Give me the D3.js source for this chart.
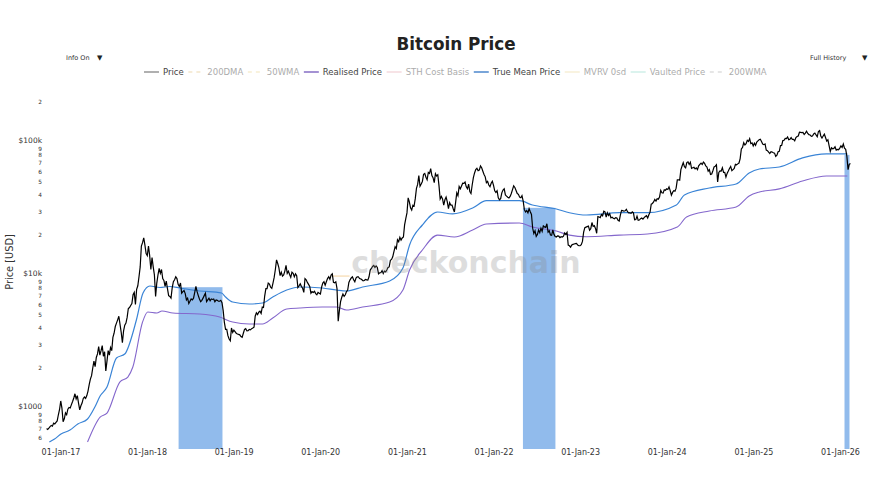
<!DOCTYPE html>
<html>
<head>
<meta charset="utf-8">
<script src="https://d3js.org/d3.v7.min.js"></script>
<style>
  html, body { margin: 0; padding: 0; background: #fff; }
  text { font-family: "DejaVu Sans", sans-serif; }
</style>
</head>
<body>
<svg id="chart" width="892" height="500"></svg>
<script>
// price, one reading every 5 days, one list per calendar stretch
var price2016 = [700,690,705,725,740,730,770,760,780,800,890,975];
var price2017 = [1130,1000,790,830,920,890,980,1010,1000,1060,1120,1190,1280,1170,1240,1090,970,1040,1090,1180,1210,1180,1240,1340,1500,1650,1750,2000,2250,2050,2400,2550,2900,2500,2700,2950,2450,2650,1900,2250,2700,2500,2850,2700,3400,3650,4100,4350,4600,4900,4250,3700,3100,3800,4200,4350,4800,5600,5700,5900,6100,7100,7400,6000,7800,8300,9700,11500,16500,17500,19000,16800,14500,14000];
var price2018 = [16500,14000,11000,13500,11500,10000,6900,8700,10000,11200,10300,11000,9400,9100,8200,9000,7900,7000,6900,6700,8000,8900,9200,9700,9400,8500,8200,8700,7300,7500,7650,7250,6500,6700,6100,6350,6600,6500,6700,7400,8200,7500,7000,6600,6300,6450,6700,7000,7300,6300,6500,6700,6400,6600,6550,6600,6300,6500,6450,6350,6350,6450,6200,5400,4400,3900,3900,3500,3300,3200,4000,3700];
var price2019 = [3850,3750,3650,3600,3580,3550,3450,3400,3650,3900,3950,3800,3820,3900,3870,3950,3990,4050,4900,5200,5050,5250,5350,5150,5750,5700,6950,7900,7900,8700,8550,8100,7950,8700,9600,11000,13000,12200,11300,9900,10500,9800,10000,10700,11800,10300,10700,10100,9600,10500,10300,9700,10200,9900,8050,8300,8600,8200,7950,7400,9400,9200,8800,8500,8200,7300,7500,7400,7550,7250,7100,7400,7300,7200];
var price2020 = [8100,8700,8900,8400,8900,9400,9700,9300,10000,10200,8800,8750,8900,7900,4500,5400,6300,6800,7200,6900,7100,7500,7700,8800,9200,9500,9700,9200,8900,9500,9700,9700,9400,9350,9200,9050,9100,9250,9200,9150,9700,10900,11200,11600,11800,11400,11700,11400,10200,10400,10400,10800,10250,10700,10550,10900,11400,11500,12900,13100,13700,15000,16300,15800,18400,17800,19200,18300,19000,19300,23800,26500];
var price2021 = [29300,38000,35500,32000,30800,33500,33000,37500,44800,48000,55900,46500,48400,50500,57200,58000,54400,52000,59000,58000,63000,56000,54000,49500,57800,55500,56700,47000,37300,39000,37300,33500,36800,38500,35500,31500,35000,33500,33500,31500,29800,35000,41500,39500,46300,44500,46700,49000,48800,50000,46000,44500,48300,42500,41000,47500,53900,58500,62000,63500,60900,61500,66000,64000,60300,57000,54700,49500,50600,47500,46200,49000,50700,47200];
var price2022 = [43000,41800,43000,38000,36800,37500,41500,43500,44500,40000,39200,38500,38000,39000,41000,43800,46800,45500,43200,41000,40400,38500,38100,39500,36000,31000,29800,30500,29300,31500,29900,28500,22500,20500,21500,19500,20200,21800,20800,22500,21300,23400,23000,22800,24300,21000,21500,20000,19900,21800,20200,19500,19300,19700,19600,19100,19400,19300,19600,20700,20200,20900,16800,16600,16200,16800,17000,17100,17200,17300,16800,16600];
var price2023 = [16600,16900,17900,21000,22700,22900,23100,23300,21700,22300,24800,23200,23500,22400,20600,27500,27300,27000,28500,27900,30200,29800,27300,29400,28000,28900,26900,27200,26700,26500,27000,26800,25800,25500,28300,30600,30500,30200,30400,31200,29900,29300,29300,29100,29800,29300,26000,26100,27700,25800,25900,26500,26800,26300,27000,27500,27900,26800,28400,29700,34100,34500,35400,37000,36000,37500,37200,38600,43300,41500,41300,43700,43400,44500];
var price2024 = [44000,46000,43100,39800,41800,43000,42700,45000,51900,52000,51700,62000,66000,70000,65300,64000,70000,71000,67800,70500,63400,64000,64500,62800,63900,62000,66200,68000,69300,67700,70600,69000,66000,64800,60300,62000,57000,57500,60800,65000,65800,67500,50000,59000,60600,60500,64000,59000,59100,54500,58100,60500,63300,65500,60800,62000,63200,68000,67400,68500,69500,75000,88700,91000,98900,95000,97200,103000,101000,106000,97200,98500,93400,98000];
var price2025 = [94500,100000,102000,104000,105000,101000,96500,95500,96600,87000,86000,84000,82000,84500,84000,83000,82500,78000,79500,84500,85000,94000,94200,102500,103000,106500,106000,109000,104000,105000,108000,104500,104500,102000,108000,110000,111000,118500,118000,117500,118000,114000,116500,120500,116000,113500,113000,110500,111000,115000,116800,113000,109500,120000,122000,111000,107000,111000,114500,108000,101500,104000,94000,85000,90500,89000,89500,92000,87000,88000,87500,90000];
var price2026 = [93500,91000,96500,90000,88000,78000,62000,68000,69000];
var priceStarts = ["2016-11-03","2017-01-02","2018-01-07","2019-01-02","2020-01-07","2021-01-01","2022-01-06","2023-01-01","2024-01-06","2025-01-10","2026-01-05"];
var priceLists = [price2016,price2017,price2018,price2019,price2020,price2021,price2022,price2023,price2024,price2025,price2026];

var trueMeanDates = ["2016-11-15","2016-12-07","2017-01-03","2017-02-10","2017-03-15","2017-04-25","2017-05-26","2017-06-17","2017-07-16","2017-08-25","2017-09-29","2017-11-17","2017-12-15","2018-01-13","2018-02-24","2018-04-07","2018-05-19","2018-08-11","2018-11-11","2018-11-28","2018-12-28","2019-03-08","2019-05-03","2019-06-15","2019-08-13","2019-10-07","2020-01-10","2020-03-10","2020-04-21","2020-06-28","2020-10-20","2020-12-15","2021-01-12","2021-03-07","2021-05-10","2021-07-12","2021-10-05","2021-12-02","2022-04-20","2022-06-14","2022-09-23","2022-11-17","2023-01-28","2023-06-16","2023-10-12","2024-02-11","2024-03-16","2024-06-29","2024-10-20","2024-12-14","2025-01-26","2025-04-20","2025-07-27","2025-11-05","2026-02-01"];
var trueMeanValues = [555,585,638,683,758,827,1018,1230,1439,2377,2547,4590,7325,8266,8054,8195,7986,7585,7325,6834,6266,6053,6158,6834,7714,8128,7986,7714,7585,8128,9016,11290,16820,23770,29760,28770,31900,36200,36200,33600,31350,29400,28260,29400,29400,33600,39980,45100,48300,58500,62700,64900,75900,81300,81300];

var realisedDates = ["2017-04-25","2017-06-17","2017-07-16","2017-09-08","2017-10-12","2017-11-02","2017-12-13","2018-01-04","2018-02-11","2018-03-05","2018-04-20","2018-08-11","2018-11-03","2018-12-28","2019-03-08","2019-05-03","2019-06-15","2019-08-13","2019-10-07","2020-01-10","2020-03-10","2020-04-21","2020-06-28","2020-10-20","2020-12-15","2021-01-12","2021-03-07","2021-05-10","2021-07-20","2021-10-05","2021-12-02","2022-04-20","2022-06-14","2022-09-23","2022-11-17","2023-01-28","2023-06-16","2023-10-12","2024-02-15","2024-03-25","2024-06-29","2024-10-20","2024-12-14","2025-01-26","2025-04-20","2025-07-27","2025-11-05","2026-02-01"];
var realisedValues = [555,855,917,1568,1710,2033,4430,5270,5180,5365,5180,5090,4830,4430,4285,4285,4750,5550,5650,5750,5750,5460,5750,6266,7714,10900,15420,19950,19300,21800,24170,24600,22960,21420,19950,19400,19950,20340,22960,27300,30300,32450,39300,42100,44400,50900,55500,55500];

var mvrvDates = ["2020-02-21","2020-05-04"];
var mvrvValues = [9820,9820];

var bandStarts = ["2018-05-14","2022-05-05","2026-01-20"];
var bandEnds = ["2018-11-15","2022-09-19","2026-02-10"];
var bandTops = [8100,32000,80000];

var xTickDates = ["2017-01-01","2018-01-01","2019-01-01","2020-01-01","2021-01-01","2022-01-01","2023-01-01","2024-01-01","2025-01-01","2026-01-01"];
var yTickValues = [200000,100000,90000,80000,70000,60000,50000,40000,30000,20000,10000,9000,8000,7000,6000,5000,4000,3000,2000,1000,900,800,700,600];
var yTickNames = {100000:"$100k",10000:"$10k",1000:"$1000"};

var legendNames = ["Price","200DMA","50WMA","Realised Price","STH Cost Basis","True Mean Price","MVRV 0sd","Vaulted Price","200WMA"];
var legendColors = ["#8f8f8f","#e8c98a","#f0dc9a","#7d64c0","#e8a9b4","#3f7fc9","#eedb9f","#8fdccb","#b9b9b9"];
var legendDashes = ["","4,4","4,4","","","","","","4,4"];
var legendActive = [true,false,false,true,false,true,false,false,false];

var parseDay = d3.timeParse("%Y-%m-%d");
var svg = d3.select("#chart");

// 01-Jan-17 sits at 60.5 and 01-Jan-26 at 840
var x = d3.scaleTime()
    .domain([parseDay("2017-01-01"), parseDay("2026-01-01")])
    .range([60.5, 840]);
var y = d3.scaleLog()
    .domain([492, 254700])
    .range([449, 88]);

var priceData = [];
priceLists.forEach(function (list, k) {
    var start = parseDay(priceStarts[k]);
    list.forEach(function (v, i) {
        priceData.push({ date: d3.timeDay.offset(start, i * 5), value: v });
    });
});

function zipDates(dates, values) {
    return dates.map(function (d, i) { return { date: parseDay(d), value: values[i] }; });
}

var line = d3.line()
    .x(function (d) { return x(d.date); })
    .y(function (d) { return y(d.value); });
var smooth = d3.line()
    .curve(d3.curveMonotoneX)
    .x(function (d) { return x(d.date); })
    .y(function (d) { return y(d.value); });

// shaded bands
svg.selectAll("rect.band")
    .data(bandStarts)
    .enter().append("rect")
    .attr("class", "band")
    .attr("x", function (d) { return x(parseDay(d)); })
    .attr("width", function (d, i) { return x(parseDay(bandEnds[i])) - x(parseDay(d)); })
    .attr("y", function (d, i) { return y(bandTops[i]); })
    .attr("height", function (d, i) { return y(492) - y(bandTops[i]); })
    .attr("fill", "#91bbec");

svg.append("path")
    .attr("d", line(zipDates(mvrvDates, mvrvValues)))
    .attr("fill", "none").attr("stroke", "#f6d9ae").attr("stroke-width", 1.2);

svg.append("path")
    .attr("d", smooth(zipDates(realisedDates, realisedValues)))
    .attr("fill", "none").attr("stroke", "#8467cc").attr("stroke-width", 1.1);

svg.append("path")
    .attr("d", smooth(zipDates(trueMeanDates, trueMeanValues)))
    .attr("fill", "none").attr("stroke", "#3a84d6").attr("stroke-width", 1.2);

svg.append("path")
    .attr("d", line(priceData))
    .attr("fill", "none").attr("stroke", "#000").attr("stroke-width", 1.2);

// axes
var xAxis = d3.axisBottom(x)
    .tickValues(xTickDates.map(parseDay))
    .tickFormat(d3.timeFormat("%d-%b-%y"))
    .tickSize(0).tickPadding(0);
var gx = svg.append("g").attr("transform", "translate(0,449)").call(xAxis);
gx.select(".domain").remove();
gx.selectAll("text").attr("font-size", 8).attr("fill", "#333").style("font-family", '"DejaVu Sans", sans-serif');

var yAxis = d3.axisLeft(y)
    .tickValues(yTickValues)
    .tickFormat(function (d) {
        if (yTickNames[d]) return yTickNames[d];
        return String(d).charAt(0);
    })
    .tickSize(0).tickPadding(0);
var gy = svg.append("g").attr("transform", "translate(42,0)").call(yAxis);
gy.select(".domain").remove();
gy.selectAll("text")
    .attr("fill", "#333")
    .style("font-family", '"DejaVu Sans", sans-serif')
    .attr("font-size", function (d) { return yTickNames[d] ? 7.5 : 5.8; })
    // the 9 sits tight under the decade label, spread them a touch
    .attr("transform", function (d) {
        if (yTickNames[d]) return "translate(0,-1.5)";
        if (String(d).charAt(0) === "9") return "translate(0,0.7)";
        return null;
    });

svg.append("text")
    .attr("transform", "translate(12.5,262) rotate(-90)")
    .attr("text-anchor", "middle")
    .attr("font-size", 9.8)
    .attr("fill", "#333")
    .text("Price [USD]");

// title and the two dropdown labels
svg.append("text")
    .attr("x", 456).attr("y", 50)
    .attr("text-anchor", "middle")
    .attr("font-size", 16.8).attr("font-weight", "bold")
    .attr("fill", "#222")
    .text("Bitcoin Price");

svg.append("text").attr("x", 66).attr("y", 60).attr("font-size", 6.5).attr("fill", "#333").text("Info On");
svg.append("text").attr("x", 97).attr("y", 60).attr("font-size", 7).attr("fill", "#222").text("▼");
svg.append("text").attr("x", 810).attr("y", 60).attr("font-size", 6.5).attr("fill", "#333").text("Full History");
svg.append("text").attr("x", 862).attr("y", 60).attr("font-size", 7).attr("fill", "#222").text("▼");

// legend, running cursor so the entries space themselves
var cursor = 144;
legendNames.forEach(function (name, i) {
    var op = legendActive[i] ? 1 : 0.45;
    var g = svg.append("g").attr("opacity", op);
    g.append("line")
        .attr("x1", cursor).attr("x2", cursor + 15)
        .attr("y1", 72).attr("y2", 72)
        .attr("stroke", legendColors[i])
        .attr("stroke-width", 1.4)
        .attr("stroke-dasharray", legendDashes[i]);
    var t = g.append("text")
        .attr("x", cursor + 19).attr("y", 75)
        .attr("font-size", 8.5)
        .attr("fill", "#444")
        .text(name);
    cursor += 19 + t.node().getComputedTextLength() + 4.6;
});

// watermark
svg.append("text")
    .attr("x", 466).attr("y", 273)
    .attr("text-anchor", "middle")
    .attr("font-size", 30).attr("font-weight", "bold")
    .attr("fill", "#888").attr("opacity", 0.28)
    .text("checkonchain");
</script>
</body>
</html>
